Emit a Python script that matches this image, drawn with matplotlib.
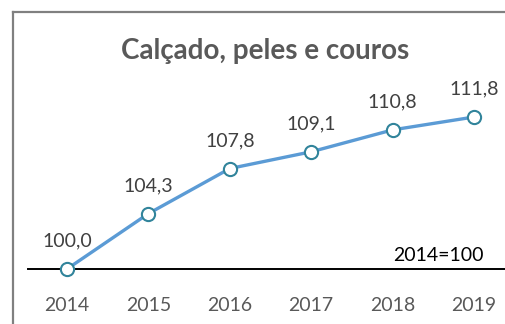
import matplotlib
matplotlib.use("Agg")
import matplotlib.pyplot as plt
from matplotlib.lines import Line2D

years = [2014, 2015, 2016, 2017, 2018, 2019]
index_values = [100.0, 104.3, 107.8, 109.1, 110.8, 111.8]
value_labels = ["100,0", "104,3", "107,8", "109,1", "110,8", "111,8"]
title = "Calçado, peles e couros"
base_note = "2014=100"

W, H = 505, 324
fig = plt.figure(figsize=(W / 100, H / 100), dpi=100)
plt.rcParams["font.family"] = ["Lato", "DejaVu Sans"]

# outer frame (only the top and left edges fall inside the canvas)
fig.add_artist(Line2D([13 / W, 13 / W], [0, 1 - 12 / H], color="#808080", lw=1.6,
                      transform=fig.transFigure))
fig.add_artist(Line2D([13 / W, 1], [1 - 12 / H, 1 - 12 / H], color="#808080", lw=1.6,
                      transform=fig.transFigure))

left_px, right_px, base_px = 28, 505, 269
ax = fig.add_axes([left_px / W, (H - base_px) / H, (right_px - left_px) / W, base_px / H])
ax.patch.set_alpha(0)

px_per_year = (474 - 67) / 5
px_per_unit = (269 - 117) / 11.8
ax.set_xlim(2014 - (67 - left_px) / px_per_year, 2019 + (right_px - 474) / px_per_year)
ax.set_ylim(100, 100 + base_px / px_per_unit)

ax.plot(years, index_values, color="#5B9BD5", lw=2.4, marker="o", ms=9.5,
        markerfacecolor="white", markeredgecolor="#31849B", markeredgewidth=1.5,
        clip_on=False, zorder=3)

for x, y, s in zip(years, index_values, value_labels):
    ax.annotate(s, (x, y), xytext=(0, 14), textcoords="offset points",
                ha="center", va="bottom", fontsize=14, color="#404040")

for side in ["top", "right", "left"]:
    ax.spines[side].set_visible(False)
ax.spines["bottom"].set_color("black")
ax.spines["bottom"].set_linewidth(1.4)
ax.set_yticks([])
ax.set_xticks(years)
ax.set_xticklabels([str(y) for y in years])
ax.tick_params(axis="x", length=0, pad=20, labelsize=14, labelcolor="#595959")

ax.text(2014 + (484 - 67) / px_per_year, 100 + 5 / px_per_unit, base_note,
        ha="right", va="bottom", fontsize=14, color="black")
fig.text(265 / W, 1 - 51 / H, title, ha="center", va="center", fontsize=20,
         fontweight="bold", color="#595959")

fig.savefig("out.png", dpi=100)
